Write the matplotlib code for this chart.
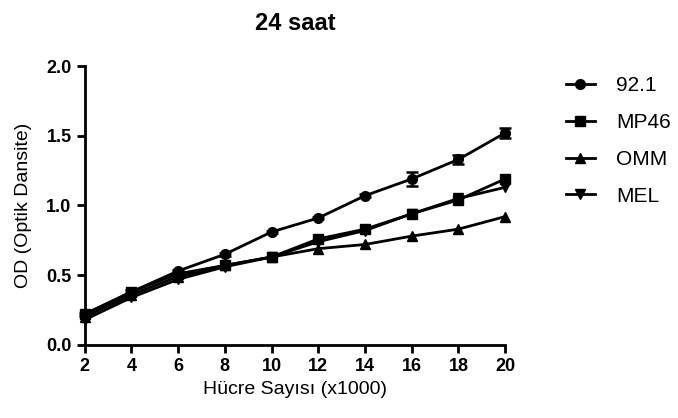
import matplotlib
matplotlib.use("Agg")
import matplotlib.pyplot as plt
import numpy as np

plt.rcParams["font.family"] = ["Liberation Sans", "DejaVu Sans"]

cells = [2, 4, 6, 8, 10, 12, 14, 16, 18, 20]
od_921 = [0.22, 0.38, 0.53, 0.65, 0.81, 0.91, 1.07, 1.19, 1.33, 1.52]
err_921 = [0.01, 0.01, 0.01, 0.01, 0.01, 0.01, 0.01, 0.05, 0.035, 0.035]
od_mp46 = [0.22, 0.38, 0.51, 0.57, 0.63, 0.76, 0.83, 0.94, 1.04, 1.19]
od_omm = [0.20, 0.36, 0.49, 0.57, 0.63, 0.69, 0.72, 0.78, 0.83, 0.92]
od_mel = [0.18, 0.34, 0.47, 0.56, 0.63, 0.74, 0.82, 0.94, 1.05, 1.13]

series = [
    ("92.1", od_921, err_921, "o"),
    ("MP46", od_mp46, None, "s"),
    ("OMM", od_omm, None, "^"),
    ("MEL", od_mel, None, "v"),
]

fig = plt.figure(figsize=(6.78, 4.18), dpi=100)
ax = fig.add_axes([0.125, 0.175, 0.62, 0.667])

for name, vals, err, marker in series:
    if err is not None:
        ax.errorbar(cells, vals, yerr=err, fmt="none", ecolor="black",
                    capsize=4, capthick=1.8, elinewidth=1.8, clip_on=False)
    ax.plot(cells, vals, color="black", marker=marker, markersize=7,
            linewidth=2, label=name, clip_on=False)

ax.set_xlim(2, 20)
ax.set_ylim(0, 2.0)
ax.set_xticks(np.arange(2, 21, 2))
ax.set_yticks(np.arange(0, 2.01, 0.5))
ax.set_yticklabels(["0.0", "0.5", "1.0", "1.5", "2.0"])
for side in ["top", "right"]:
    ax.spines[side].set_visible(False)
for side in ["left", "bottom"]:
    ax.spines[side].set_linewidth(2)
ax.tick_params(width=2, length=6, labelsize=13, direction="out")
for lbl in ax.get_xticklabels() + ax.get_yticklabels():
    lbl.set_fontweight("bold")

ax.set_xlabel("Hücre Sayısı (x1000)", fontsize=14)
ax.set_ylabel("OD (Optik Dansite)", fontsize=14, labelpad=10)
ax.set_title("24 saat", fontsize=17, fontweight="bold", pad=26)

ax.legend(loc="upper left", bbox_to_anchor=(1.1, 1.03), frameon=False,
          fontsize=15, handlelength=1.4, handletextpad=1.0,
          labelspacing=0.85)

fig.savefig("out.png", dpi=100)
